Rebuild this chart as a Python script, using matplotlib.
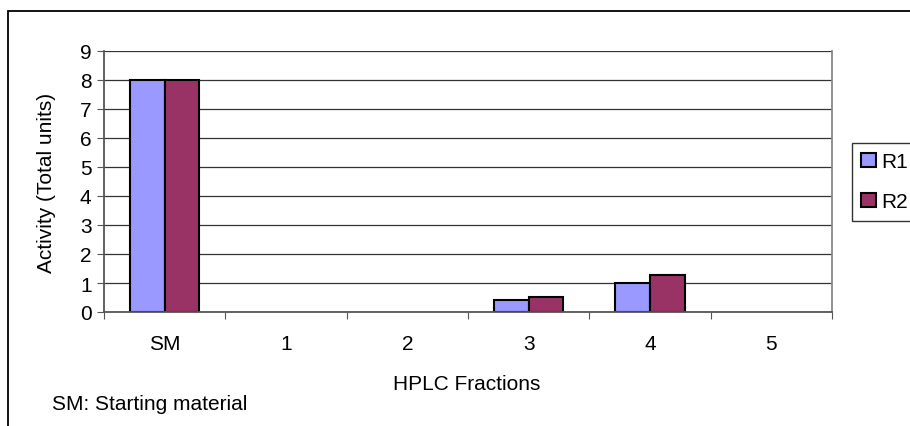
import matplotlib
matplotlib.use("Agg")
import matplotlib.pyplot as plt
import numpy as np
from matplotlib.patches import Rectangle

categories = ["SM", "1", "2", "3", "4", "5"]
r1 = [8.0, 0, 0, 0.4, 1.0, 0]
r2 = [8.0, 0, 0, 0.52, 1.28, 0]
yticks = list(range(0, 10))

plt.rcParams['font.family'] = ['Liberation Sans', 'DejaVu Sans']
FS = 15

W, H = 910, 427
fig = plt.figure(figsize=(W/100, H/100), dpi=100)
# plot area: x 104..832, y 52..313
ax = fig.add_axes([104/W, 1-313/H, (832-104)/W, (313-52)/H])

x = np.arange(len(categories))
bw = 0.285
ax.bar(x - bw/2, r1, bw, color="#9999FF", edgecolor="black",
       linewidth=[1.5 if v > 0 else 0 for v in r1], label="R1", zorder=3)
ax.bar(x + bw/2, r2, bw, color="#993366", edgecolor="black",
       linewidth=[1.5 if v > 0 else 0 for v in r2], label="R2", zorder=3)

ax.set_xlim(-0.5, len(categories) - 0.5)
ax.set_ylim(0, 9)
ax.set_yticks(yticks)
ax.set_yticklabels([str(t) for t in yticks], fontsize=FS)
ax.set_xticks(np.arange(len(categories) + 1) - 0.5)
ax.set_xticklabels([])
ax.set_xticks(x, minor=True)
ax.set_xticklabels(categories, minor=True, fontsize=FS)
ax.tick_params(axis='x', which='minor', length=0, pad=16)
ax.tick_params(axis='x', which='major', length=5, color="#555555", direction='out')
ax.tick_params(axis='y', length=5, color="#555555", direction='out', pad=4)

ax.grid(axis='y', color="#333333", linewidth=0.9, zorder=0)
for s in ["left", "bottom"]:
    ax.spines[s].set_color("#555555")
    ax.spines[s].set_linewidth(1.3)
    ax.spines[s].set_zorder(4)
ax.spines["right"].set_color("#888888")
ax.spines["right"].set_linewidth(1.3)
ax.spines["top"].set_visible(False)

fig.text(47/W, 1-183/H, "Activity (Total units)", fontsize=FS, rotation=90,
         ha='center', va='center')
fig.text(467/W, 1-385/H, "HPLC Fractions", fontsize=FS, ha='center', va='center')
fig.text(52/W, 1-405/H, "SM: Starting material", fontsize=FS, ha='left', va='center')

leg = fig.legend(loc='upper left', bbox_to_anchor=(852/W, 1-144/H), frameon=True,
                 fontsize=FS, handlelength=0.7, handleheight=0.7, handletextpad=0.25,
                 borderpad=0.45, borderaxespad=0, labelspacing=1.0, fancybox=False)
leg.get_frame().set_edgecolor("black")
leg.get_frame().set_linewidth(1.0)

# outer chart frame (extends beyond image on right/bottom)
fig.patches.append(Rectangle((8/W, -0.1), 1.2, 1 - 12/H + 0.1, transform=fig.transFigure,
                             fill=False, edgecolor="black", linewidth=1.3))

fig.savefig("out.png", dpi=100)
